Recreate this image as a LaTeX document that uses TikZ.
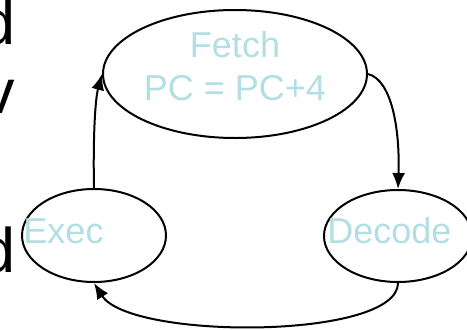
\documentclass[tikz,border=0pt]{standalone}
\usepackage{fontspec}
\setmainfont{Liberation Sans}
\usetikzlibrary{shapes.geometric,arrows.meta}
\definecolor{stagetext}{RGB}{178,222,228}
\begin{document}
\begin{tikzpicture}[x=1pt,y=-1pt,
  stage/.style={draw=black,line width=2pt,ellipse,inner sep=0pt},
  stagelabel/.style={text=stagetext,font=\fontsize{36}{43}\selectfont,inner sep=0pt,anchor=base},
  slide/.style={text=black,font=\fontsize{63}{75}\selectfont,inner sep=0pt,anchor=base east},
  flow/.style={line width=2pt,-{Latex[length=16pt,width=13pt]}}]
\useasboundingbox (0,0) rectangle (467,330);
% cropped slide text at the left edge
\node[slide] (s1) at (16,44) {d};
\node[slide] (s2) at (15,113) {v};
\node[slide] (s3) at (16,272) {d};
% stages
\node[stage,minimum width=264pt,minimum height=128pt] (fetch) at (235,74) {};
\node[stage,minimum width=144pt,minimum height=93pt] (exec) at (94,235.5) {};
\node[stage,minimum width=148pt,minimum height=92pt] (decode) at (398,236) {};
% labels
\node[stagelabel] (fetchtxt) at (235,57) {Fetch};
\node[stagelabel] (pctxt) at (235,100) {PC = PC+4};
\node[stagelabel] (exectxt) at (63.5,243) {Exec};
\node[stagelabel] (decodetxt) at (389.5,243) {Decode};
% connectors
\draw[flow] (exec.north) .. controls (93,140) and (95,100) .. (fetch.west);
\draw[flow] (fetch.east) .. controls (392,80) and (400,130) .. (decode.north);
\draw[flow] (decode.south) .. controls (398,340) and (130,340) .. (exec.south);
\end{tikzpicture}
\end{document}
